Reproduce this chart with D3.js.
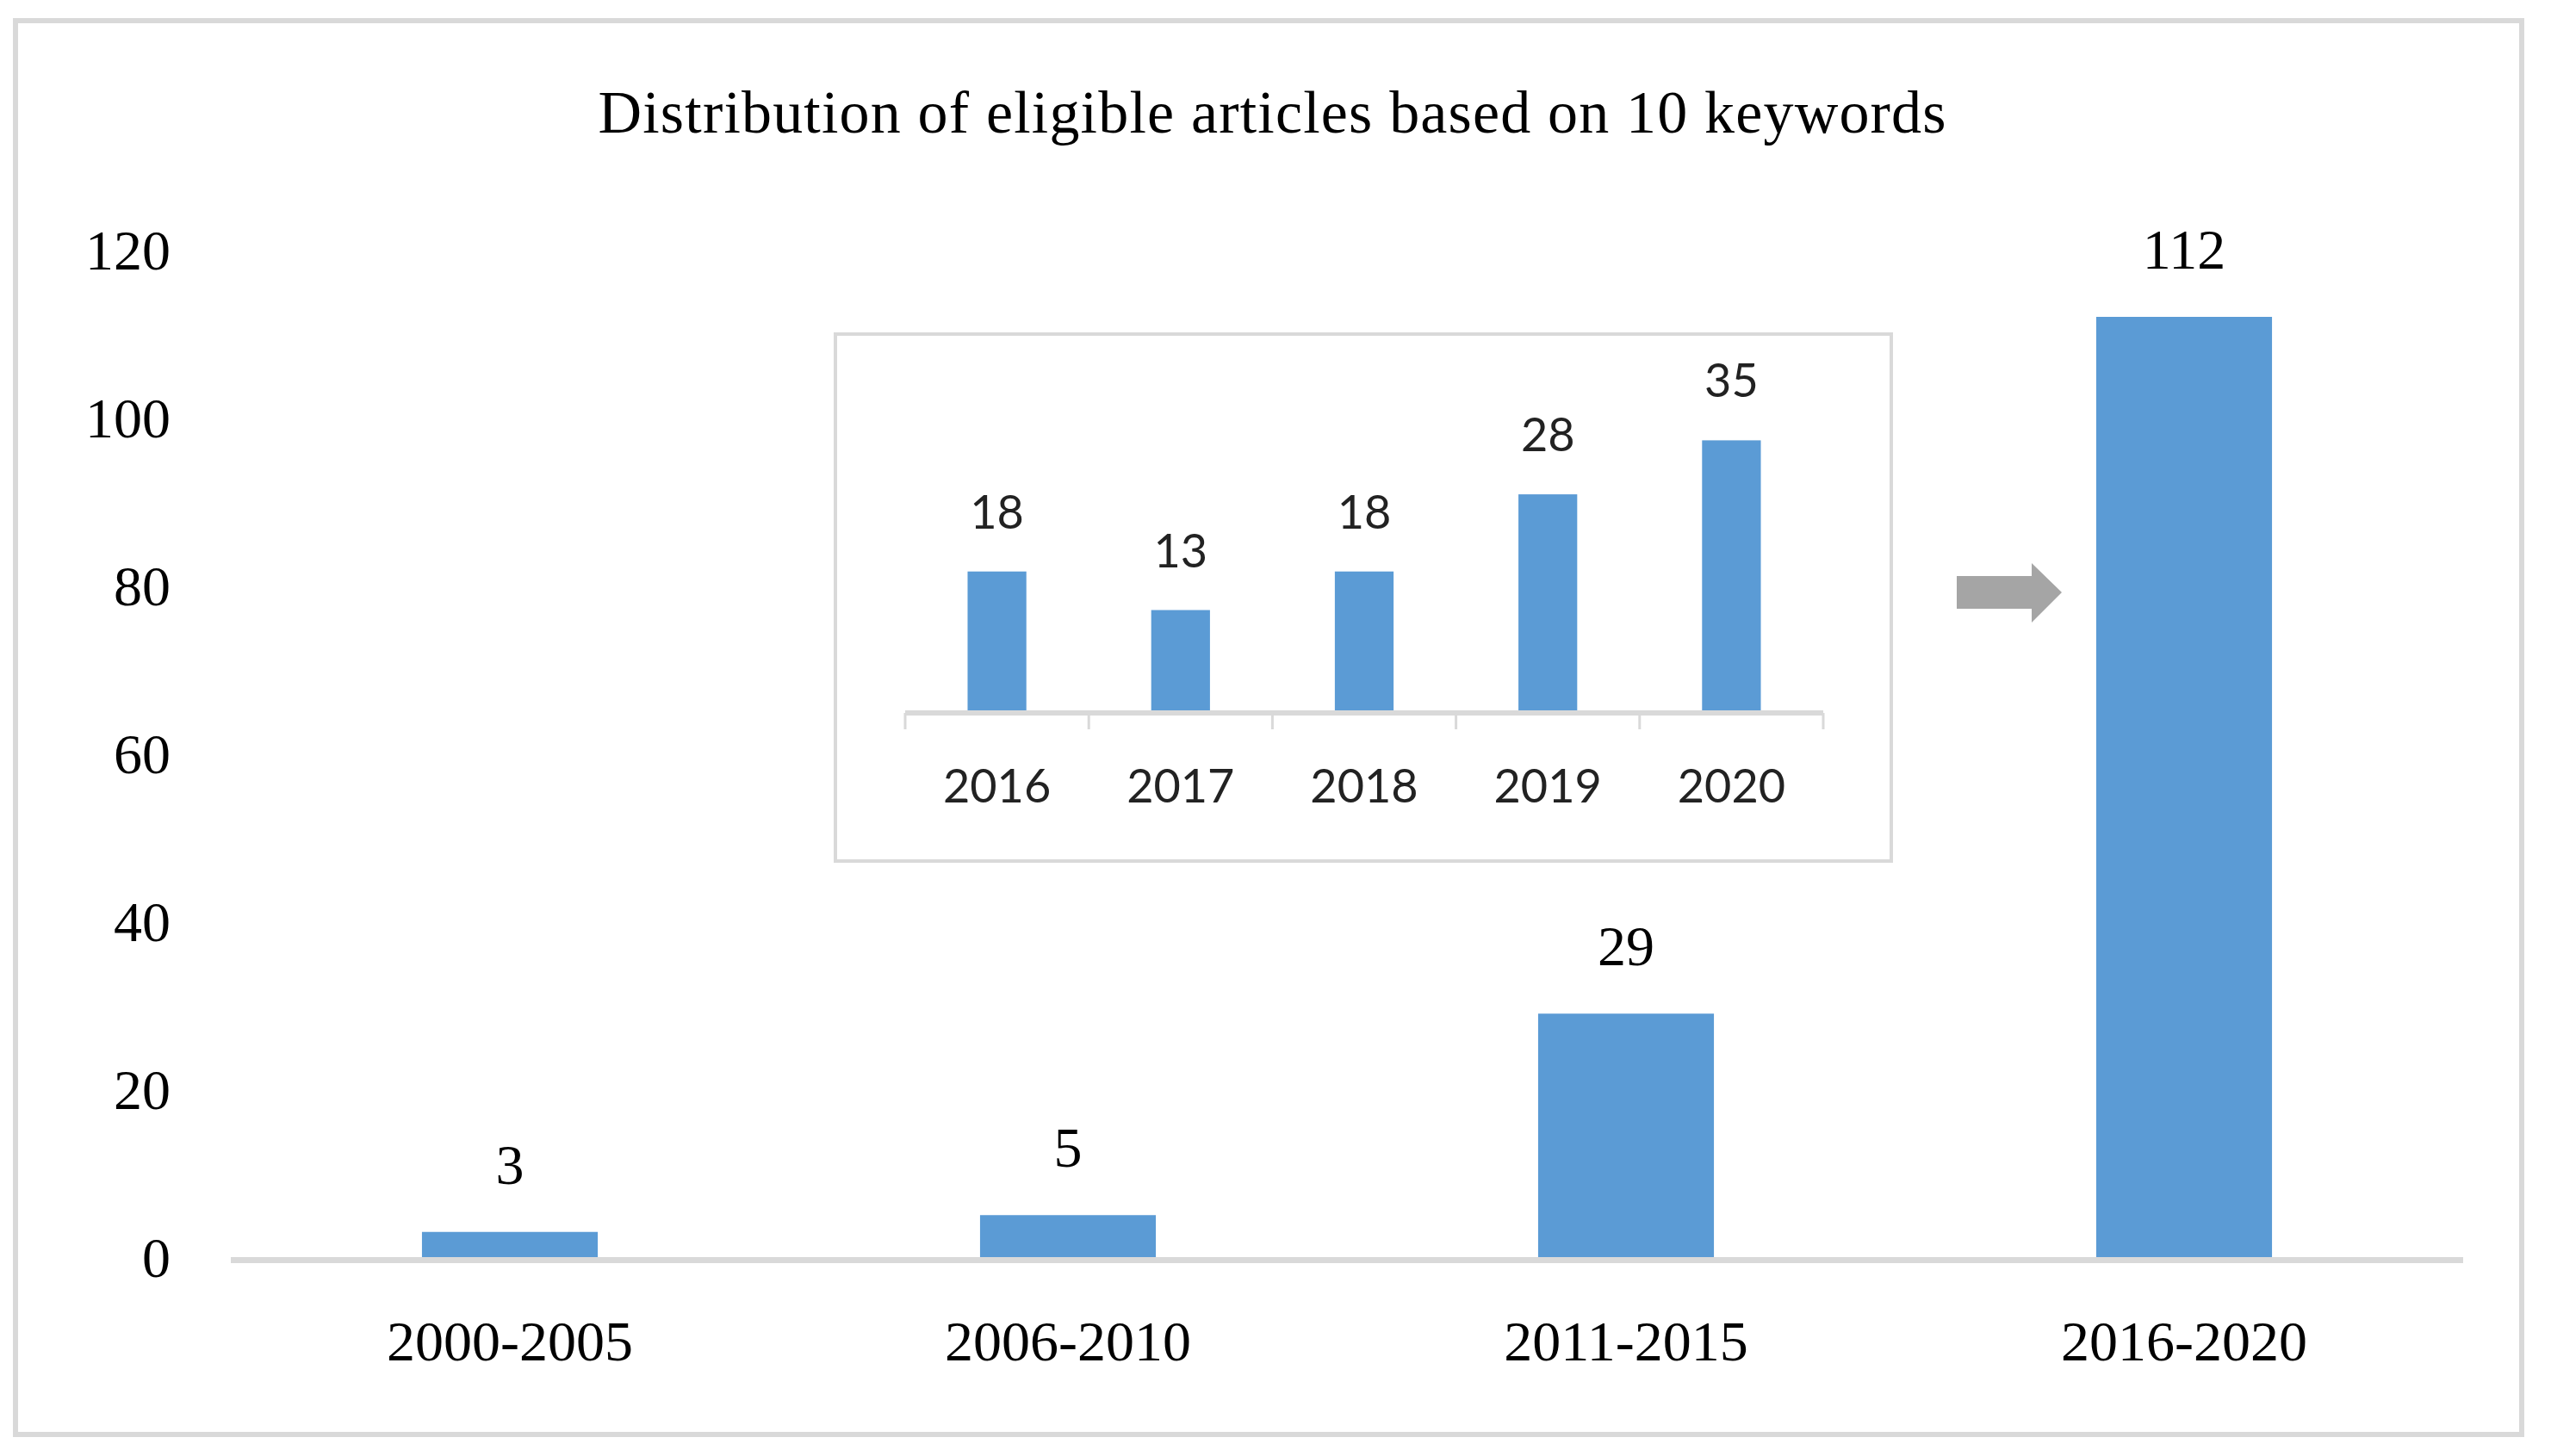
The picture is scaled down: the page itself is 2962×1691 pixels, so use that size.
<!DOCTYPE html>
<html>
<head>
<meta charset="utf-8">
<script src="https://cdn.jsdelivr.net/npm/d3@7"></script>
<style>
  html, body { margin: 0; padding: 0; background: #fff; }
  svg { display: block; }
</style>
</head>
<body>
<div id="chart"></div>
<script>
// ── data ──
const periods = ["2000-2005", "2006-2010", "2011-2015", "2016-2020"];
const periodCounts = [3, 5, 29, 112];
const yTicks = [0, 20, 40, 60, 80, 100, 120];

const years = ["2016", "2017", "2018", "2019", "2020"];
const yearCounts = [18, 13, 18, 28, 35];

const title = "Distribution of eligible articles based on 10 keywords";

// ── layout ──
const W = 2962, H = 1691;
const serif = "'Liberation Serif', 'Times New Roman', serif";
const sans = "Lato, Carlito, 'Open Sans', sans-serif";
const barColor = "#5b9bd5";
const lineGray = "#d9d9d9";

const svg = d3.select("#chart").append("svg")
  .attr("width", W).attr("height", H);

svg.append("rect").attr("width", W).attr("height", H).attr("fill", "#fff");

// outer frame
svg.append("rect")
  .attr("x", 18).attr("y", 24)
  .attr("width", 2910).attr("height", 1642)
  .attr("fill", "none")
  .attr("stroke", lineGray)
  .attr("stroke-width", 6);

// title is set in Palatino in the original, stretch Times a little to the same width
svg.append("text")
  .attr("x", 1477).attr("y", 154)
  .attr("text-anchor", "middle")
  .attr("textLength", 1565)
  .attr("lengthAdjust", "spacing")
  .style("font-family", serif)
  .style("font-size", "70px")
  .attr("fill", "#000")
  .text(title);

// ── main chart ──
const x = d3.scaleBand()
  .domain(periods)
  .range([268, 2860])
  .paddingInner(0.685)
  .paddingOuter(0.3425);

const y = d3.scaleLinear()
  .domain([0, 120])
  .range([1460, 290]);

const yAxis = svg.append("g")
  .attr("transform", "translate(198,0)")
  .call(d3.axisLeft(y).tickValues(yTicks).tickSize(0).tickPadding(0));
yAxis.select(".domain").remove();
yAxis.selectAll("text")
  .attr("dy", "0.34em")
  .style("font-family", serif)
  .style("font-size", "66px")
  .attr("fill", "#000");

svg.append("g").selectAll("rect")
  .data(periodCounts)
  .join("rect")
  .attr("x", (d, i) => x(periods[i]))
  .attr("y", (d) => y(d))
  .attr("width", x.bandwidth())
  .attr("height", (d) => y(0) - y(d))
  .attr("fill", barColor);

// baseline
svg.append("line")
  .attr("x1", x.range()[0]).attr("x2", x.range()[1])
  .attr("y1", y(0) + 3.5).attr("y2", y(0) + 3.5)
  .attr("stroke", lineGray)
  .attr("stroke-width", 7);

svg.append("g").selectAll("text")
  .data(periodCounts)
  .join("text")
  .attr("x", (d, i) => x(periods[i]) + x.bandwidth() / 2)
  .attr("y", (d) => y(d) - 56)
  .attr("text-anchor", "middle")
  .style("font-family", serif)
  .style("font-size", "66px")
  .text((d) => d);

svg.append("g").selectAll("text")
  .data(periods)
  .join("text")
  .attr("x", (d) => x(d) + x.bandwidth() / 2)
  .attr("y", 1580)
  .attr("text-anchor", "middle")
  .style("font-family", serif)
  .style("font-size", "66px")
  .text((d) => d);

// arrow pointing at the last bar
svg.append("polygon")
  .attr("points", "2272,669 2359,669 2359,654 2394,688 2359,723 2359,707 2272,707")
  .attr("fill", "#a5a5a5");

// ── inset: 2016-2020 by year ──
svg.append("rect")
  .attr("x", 970).attr("y", 388)
  .attr("width", 1226).attr("height", 612)
  .attr("fill", "#fff")
  .attr("stroke", lineGray)
  .attr("stroke-width", 4);

const xi = d3.scaleBand()
  .domain(years)
  .range([1051, 2117])
  .paddingInner(0.68)
  .paddingOuter(0.34);

const yi = d3.scaleLinear()
  .domain([0, 40])
  .range([825, 825 - 358.4]);

svg.append("g").selectAll("rect")
  .data(yearCounts)
  .join("rect")
  .attr("x", (d, i) => xi(years[i]))
  .attr("y", (d) => yi(d))
  .attr("width", xi.bandwidth())
  .attr("height", (d) => yi(0) - yi(d))
  .attr("fill", barColor);

svg.append("line")
  .attr("x1", xi.range()[0]).attr("x2", xi.range()[1])
  .attr("y1", yi(0) + 3).attr("y2", yi(0) + 3)
  .attr("stroke", lineGray)
  .attr("stroke-width", 6);

const stepI = xi.step();
svg.append("g").selectAll("line")
  .data(d3.range(years.length + 1))
  .join("line")
  .attr("x1", (i) => xi.range()[0] + i * stepI)
  .attr("x2", (i) => xi.range()[0] + i * stepI)
  .attr("y1", yi(0) + 3)
  .attr("y2", yi(0) + 22)
  .attr("stroke", lineGray)
  .attr("stroke-width", 3);

svg.append("g").selectAll("text")
  .data(yearCounts)
  .join("text")
  .attr("x", (d, i) => xi(years[i]) + xi.bandwidth() / 2)
  .attr("y", (d) => yi(d) - 50)
  .attr("text-anchor", "middle")
  .style("font-family", sans)
  .style("font-size", "54px")
  .attr("fill", "#222")
  .text((d) => d);

svg.append("g").selectAll("text")
  .data(years)
  .join("text")
  .attr("x", (d) => xi(d) + xi.bandwidth() / 2)
  .attr("y", 932)
  .attr("text-anchor", "middle")
  .style("font-family", sans)
  .style("font-size", "54px")
  .attr("fill", "#222")
  .text((d) => d);
</script>
</body>
</html>
